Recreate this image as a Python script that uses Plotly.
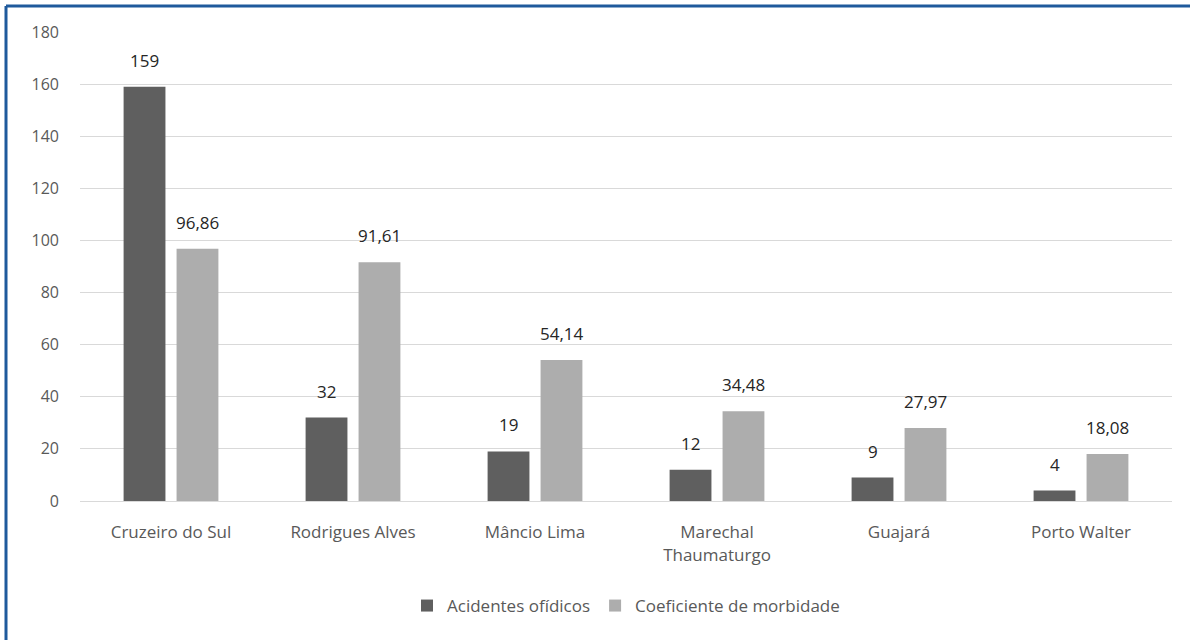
import plotly.graph_objects as go

municipios = ["Cruzeiro do Sul", "Rodrigues Alves", "Mâncio Lima",
              "Marechal<br>Thaumaturgo", "Guajará", "Porto Walter"]
acidentes = [159, 32, 19, 12, 9, 4]
coeficiente = [96.86, 91.61, 54.14, 34.48, 27.97, 18.08]
y_ticks = [0, 20, 40, 60, 80, 100, 120, 140, 160, 180]

DARK, LIGHT = "#5F5F5F", "#ADADAD"
FONT = "Open Sans"


def br(v):
    s = f"{v:.2f}" if isinstance(v, float) else str(v)
    return s.replace(".", ",")


fig = go.Figure()
fig.add_trace(go.Bar(x=municipios, y=acidentes, name="Acidentes ofídicos",
                     marker=dict(color=DARK, line=dict(width=0))))
fig.add_trace(go.Bar(x=municipios, y=coeficiente, name="Coeficiente de morbidade",
                     marker=dict(color=LIGHT, line=dict(width=0))))

W, H = 1190, 640
ml, mr, mt, mb = 80, 18, 32, 139
pw, ph = W - ml - mr, H - mt - mb
slot = 26.5  # half distance between paired bar centres, px

# value labels above each bar
annotations = []
for series, shift in ((acidentes, -slot), (coeficiente, slot)):
    for cat, v in zip(municipios, series):
        annotations.append(dict(
            x=cat, y=v, xref="x", yref="y", text=br(v), showarrow=False,
            xshift=shift, yshift=13, yanchor="bottom",
            font=dict(family=FONT, size=17, color="#262626"),
        ))


def px_x(x):
    return (x - ml) / pw


def px_y(y):
    return (H - mb - y) / ph


fig.update_layout(
    width=W, height=H,
    margin=dict(l=ml, r=mr, t=mt, b=mb),
    paper_bgcolor="white", plot_bgcolor="white",
    barmode="group", bargap=0.418, bargroupgap=0.21,
    font=dict(family=FONT, size=16, color="#595959"),
    xaxis=dict(showgrid=False, showline=True, linecolor="#D9D9D9", linewidth=1,
               ticks="", ticklabelstandoff=16,
               tickfont=dict(size=17, color="#595959")),
    yaxis=dict(range=[0, 180], tickvals=y_ticks, showgrid=True,
               gridcolor="#D9D9D9", gridwidth=1, zeroline=False,
               showline=False, ticks="", ticklabelstandoff=20,
               tickfont=dict(size=16, color="#595959")),
    legend=dict(orientation="h", x=0.5, xanchor="center",
                y=px_y(606), yanchor="middle", itemwidth=30,
                font=dict(size=17, color="#595959"),
                traceorder="normal"),
    annotations=annotations,
    shapes=[
        dict(type="line", xref="paper", yref="paper",
             x0=px_x(6), x1=px_x(W + 5), y0=px_y(6), y1=px_y(6),
             line=dict(color="#1F5A9C", width=3)),
        dict(type="line", xref="paper", yref="paper",
             x0=px_x(6), x1=px_x(6), y0=px_y(6), y1=px_y(H + 5),
             line=dict(color="#1F5A9C", width=3)),
    ],
)

fig.write_html("out.html")
